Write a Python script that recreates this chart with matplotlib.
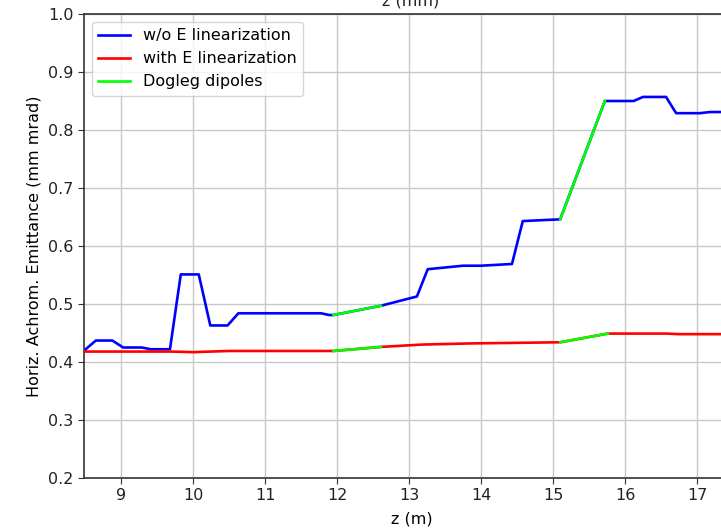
import matplotlib
matplotlib.use("Agg")
import matplotlib.pyplot as plt
import numpy as np

# Emittance along the beamline without energy linearization
z_wo = [8.49, 8.65, 8.88, 9.03, 9.29, 9.41, 9.68, 9.83, 10.08, 10.24, 10.48,
        10.63, 11.78, 11.89, 11.95, 12.61, 13.11, 13.26, 13.75, 14.00, 14.43,
        14.58, 15.10, 15.72, 16.12, 16.25, 16.57, 16.71, 17.04, 17.18, 17.6]
eps_wo = [0.420, 0.437, 0.437, 0.425, 0.425, 0.422, 0.422, 0.551, 0.551, 0.463,
          0.463, 0.484, 0.484, 0.481, 0.481, 0.497, 0.513, 0.560, 0.566, 0.566,
          0.569, 0.643, 0.646, 0.850, 0.850, 0.857, 0.857, 0.829, 0.829, 0.831,
          0.831]

# Emittance along the beamline with energy linearization
z_with = [8.49, 9.70, 10.00, 10.50, 11.95, 12.61, 13.17, 13.84, 15.10, 15.76,
          16.57, 16.76, 17.6]
eps_with = [0.418, 0.418, 0.417, 0.419, 0.419, 0.426, 0.430, 0.432, 0.434,
            0.449, 0.449, 0.448, 0.448]

# Dogleg dipole regions (z start, z end)
dogleg_wo = [(11.95, 12.61), (15.10, 15.72)]
dogleg_with = [(11.95, 12.61), (15.10, 15.76)]

x_ticks = [9, 10, 11, 12, 13, 14, 15, 16, 17]
y_ticks = [0.2, 0.3, 0.4, 0.5, 0.6, 0.7, 0.8, 0.9, 1.0]

W, H = 721, 530
fig = plt.figure(figsize=(W / 100, H / 100), dpi=100)

x_lo, x_hi = 8.486, 17.6
px_per_unit = 72.0
left_px, top_px, bottom_px = 84, 14, 478
ax = fig.add_axes([left_px / W, (H - bottom_px) / H,
                   px_per_unit * (x_hi - x_lo) / W, (bottom_px - top_px) / H])

fs = 11.5
lw = 1.9
ax.plot(z_wo, eps_wo, color="#0000ff", lw=lw, label="w/o E linearization",
        zorder=3)
ax.plot(z_with, eps_with, color="#ff0000", lw=lw, label="with E linearization",
        zorder=3)


def draw_dogleg(z, eps, regions, label):
    z = np.asarray(z)
    eps = np.asarray(eps)
    for i, (a, b) in enumerate(regions):
        m = (z >= a - 1e-9) & (z <= b + 1e-9)
        ax.plot(z[m], eps[m], color="#00ff00", lw=lw, zorder=4,
                label=label if i == 0 else None)


draw_dogleg(z_wo, eps_wo, dogleg_wo, "Dogleg dipoles")
draw_dogleg(z_with, eps_with, dogleg_with, None)

ax.set_xlim(x_lo, x_hi)
ax.set_ylim(0.2, 1.0)
ax.set_xticks(x_ticks)
ax.set_yticks(y_ticks)
ax.set_yticklabels([f"{v:.1f}" for v in y_ticks])
ax.tick_params(labelsize=fs, color="#333333", labelcolor="#222222",
               length=4)
ax.grid(True, color="#c8c8c8", lw=1.0)
ax.set_axisbelow(True)
for s in ax.spines.values():
    s.set_color("#333333")
    s.set_linewidth(1.2)

ax.set_xlabel("z (m)", fontsize=fs, labelpad=6)
ax.set_ylabel("Horiz. Achrom. Emittance (mm mrad)", fontsize=fs, labelpad=5)

fig.text(411 / W, 1 - 5 / H, "z (mm)", fontsize=fs, ha="center",
         va="baseline", color="#222222")

ax.legend(loc="upper left", fontsize=fs, framealpha=0.8, edgecolor="#cccccc",
          handlelength=2.0, borderaxespad=0.5)

fig.savefig("out.png", dpi=100)
